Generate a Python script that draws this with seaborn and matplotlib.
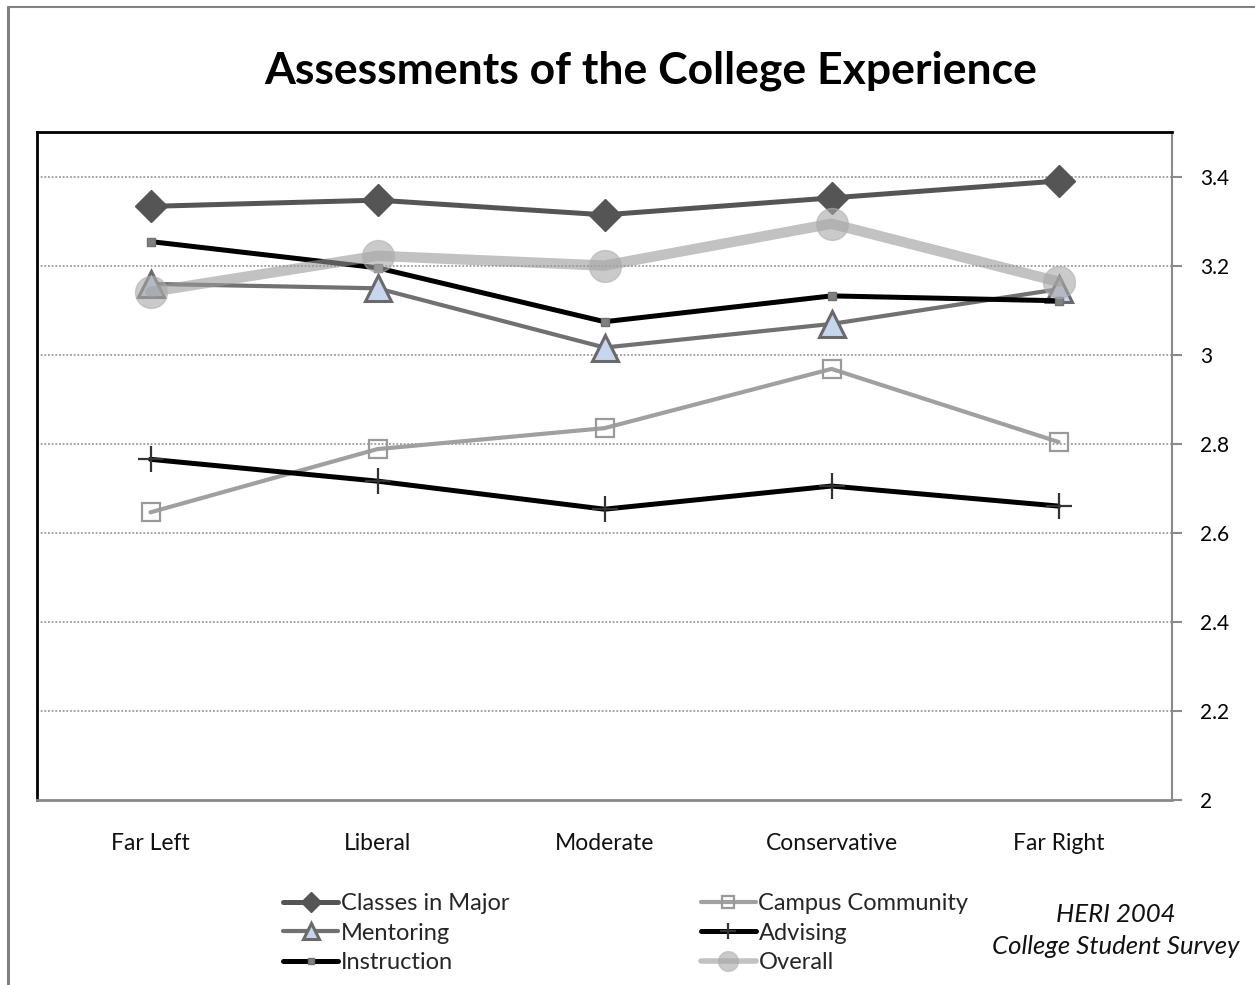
import matplotlib
matplotlib.use("Agg")
import matplotlib.pyplot as plt
import matplotlib.lines as mlines
import seaborn as sns
import pandas as pd

categories = ["Far Left", "Liberal", "Moderate", "Conservative", "Far Right"]

classes_in_major = [3.333, 3.347, 3.314, 3.352, 3.390]
mentoring = [3.159, 3.149, 3.016, 3.069, 3.147]
instruction = [3.254, 3.195, 3.074, 3.132, 3.121]
campus_community = [2.646, 2.788, 2.835, 2.968, 2.804]
advising = [2.765, 2.716, 2.653, 2.705, 2.660]
overall = [3.141, 3.222, 3.200, 3.294, 3.164]

y_ticks = [2.0, 2.2, 2.4, 2.6, 2.8, 3.0, 3.2, 3.4]
y_tick_labels = ["2", "2.2", "2.4", "2.6", "2.8", "3", "3.2", "3.4"]

sns.set_theme(style="white")
plt.rcParams["font.family"] = ["Lato", "DejaVu Sans"]
plt.rcParams["ytick.right"] = True
plt.rcParams["ytick.left"] = False
plt.rcParams["ytick.direction"] = "out"

fig = plt.figure(figsize=(12.55, 9.85), dpi=100)
fig.patch.set_facecolor("white")
ax = fig.add_axes([37 / 1255, 185 / 985, 1135 / 1255, 668 / 985])

series = [
    ("Classes in Major", classes_in_major,
     dict(color="#555555", lw=3.6, marker="D", ms=16, mfc="#555555", mec="#555555", mew=1)),
    ("Mentoring", mentoring,
     dict(color="#717171", lw=3.0, marker="^", ms=19, mfc="#c6d6ef", mec="#6a6a6a", mew=2.2)),
    ("Instruction", instruction,
     dict(color="black", lw=3.6, marker="s", ms=6, mfc="#808080", mec="#707070", mew=1)),
    ("Campus Community", campus_community,
     dict(color="#a0a0a0", lw=3.0, marker="s", ms=13, mfc="none", mec="#9a9a9a", mew=1.6)),
    ("Advising", advising,
     dict(color="black", lw=3.6, marker="+", ms=19, mec="#333333", mew=1.6)),
    ("Overall", overall,
     dict(color="#9a9a9a", lw=7.5, marker="o", ms=23, mfc="#a8a8a8", mec="#b0b0b0", mew=1, alpha=0.6)),
]

for name, values, style in series:
    df = pd.DataFrame({"category": categories, "score": values})
    sns.lineplot(data=df, x="category", y="score", ax=ax, label=name,
                 sort=False, **style)

ax.set_xlim(-0.5, 4.5)
ax.set_ylim(2.0, 3.5)
ax.set_xlabel("")
ax.set_ylabel("")

ax.set_yticks(y_ticks)
ax.set_yticklabels(y_tick_labels)
ax.yaxis.set_tick_params(which="major", left=False, right=True,
                         labelleft=False, labelright=True, direction="out",
                         length=7, width=1.5, color="#8a8a8a",
                         labelsize=15, pad=13, labelcolor="black")
ax.tick_params(axis="x", bottom=False, labelsize=16.5, pad=17.5, labelcolor="#111111")

for y in y_ticks[1:]:
    ax.axhline(y, color="#8a8a8a", lw=1.1, ls=(0, (1.2, 1.2)), zorder=0.5)

ax.spines["left"].set_color("black")
ax.spines["left"].set_linewidth(2)
ax.spines["top"].set_color("black")
ax.spines["top"].set_linewidth(2)
ax.spines["right"].set_color("#8a8a8a")
ax.spines["right"].set_linewidth(1.5)
ax.spines["bottom"].set_color("#8a8a8a")
ax.spines["bottom"].set_linewidth(2)

handles, labels = ax.get_legend_handles_labels()
ax.get_legend().remove()
leg = fig.legend(handles, labels, ncol=2, loc="upper left",
                 bbox_to_anchor=(283 / 1255, 1 - 893 / 985), frameon=False,
                 fontsize=17, handlelength=2.35, handletextpad=0.1,
                 columnspacing=8.1, labelspacing=0.36, markerscale=0.62,
                 borderpad=0, borderaxespad=0)
for line in leg.get_lines():
    line.set_linewidth(min(line.get_linewidth(), 4.0))

fig.text(651 / 1255, 1 - 71 / 985, "Assessments of the College Experience",
         ha="center", va="center", fontsize=32, fontweight="bold", color="black")

fig.text(1116 / 1255, 1 - 914 / 985, "HERI 2004", ha="center", va="center",
         fontsize=18.5, style="italic", color="#111111")
fig.text(1116 / 1255, 1 - 946 / 985, "College Student Survey", ha="center",
         va="center", fontsize=18.5, style="italic", color="#111111")

# page frame
fig.add_artist(mlines.Line2D([8 / 1255, 8 / 1255], [0, 1 - 7 / 985],
                             color="#808080", lw=2.2, transform=fig.transFigure))
fig.add_artist(mlines.Line2D([8 / 1255, 1], [1 - 7 / 985, 1 - 7 / 985],
                             color="#808080", lw=1.5, transform=fig.transFigure))

fig.savefig("out.png", dpi=100, facecolor="white")
